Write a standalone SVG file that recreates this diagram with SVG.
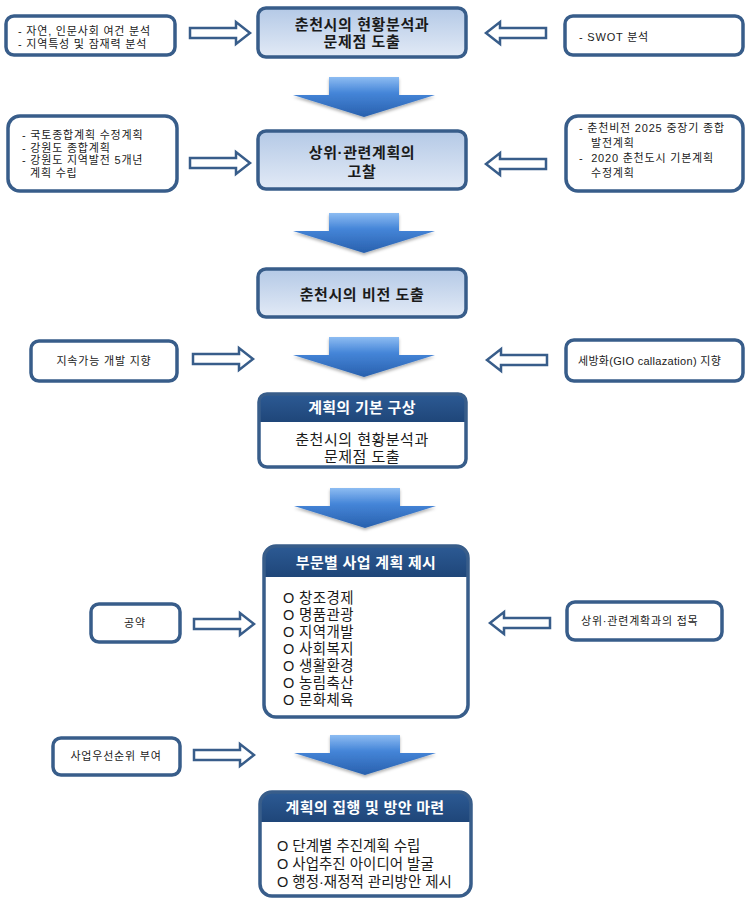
<svg xmlns="http://www.w3.org/2000/svg" width="748" height="905" viewBox="0 0 748 905">
<style>
text{font-family:"Liberation Sans","Noto Sans CJK KR",sans-serif;fill:#1a1a1a}
.sm{font-size:11px;letter-spacing:0.8px}
.md{font-size:15px;letter-spacing:0.5px}
.it{font-size:14.5px;letter-spacing:0.4px}
.fi{font-size:14.5px;letter-spacing:0px}
.tb{font-size:15px;font-weight:bold;letter-spacing:0.6px}
.hd{font-size:15px;font-weight:bold;fill:#ffffff;letter-spacing:0.3px}
.box{fill:#ffffff;stroke:#385d8a;stroke-width:3.5}
.main{fill:url(#mg);stroke:#385d8a;stroke-width:3.5}
.frame{fill:none;stroke:#385d8a;stroke-width:3.5}
.head{fill:url(#hg)}
.ha{fill:#ffffff;stroke:#385d8a;stroke-width:2.5;stroke-linejoin:miter}
.ba{fill:url(#bg);filter:url(#sh)}
</style>
<defs>
<linearGradient id="mg" x1="0" y1="0" x2="0" y2="1">
<stop offset="0" stop-color="#b4c9e6"/>
<stop offset="1" stop-color="#e2eaf6"/>
</linearGradient>
<linearGradient id="hg" x1="0" y1="0" x2="0" y2="1">
<stop offset="0" stop-color="#2c5a94"/>
<stop offset="1" stop-color="#1f4679"/>
</linearGradient>
<linearGradient id="bg" x1="0" y1="0" x2="0" y2="1">
<stop offset="0" stop-color="#8dbcf2"/>
<stop offset="0.4" stop-color="#4585d8"/>
<stop offset="1" stop-color="#2860ad"/>
</linearGradient>
<filter id="sh" x="-20%" y="-20%" width="140%" height="160%">
<feDropShadow dx="0" dy="2" stdDeviation="1.5" flood-color="#000000" flood-opacity="0.3"/>
</filter>
<path id="ra" d="M0,-5 H46 V-11 L60,0 L46,11 V5 H0 Z"/>
<path id="la" d="M60,-5 H14 V-11 L0,0 L14,11 V5 H60 Z"/>
<path id="big" d="M-35,0 H35 V18 H71 L0,40 L-71,18 H-35 Z"/>
</defs>

<g id="connectors">
<use href="#ra" class="ha" x="190" y="33"/>
<use href="#la" class="ha" x="486" y="33"/>
<use href="#ra" class="ha" x="190" y="163"/>
<use href="#la" class="ha" x="486" y="164"/>
<use href="#ra" class="ha" x="193" y="359"/>
<use href="#la" class="ha" x="487" y="360"/>
<use href="#ra" class="ha" x="194" y="624"/>
<use href="#la" class="ha" x="490" y="623"/>
<use href="#ra" class="ha" x="194" y="755"/>
<use href="#big" class="ba" x="364" y="77"/>
<use href="#big" class="ba" x="364" y="213"/>
<use href="#big" class="ba" x="364" y="337"/>
<use href="#big" class="ba" x="365" y="488"/>
<use href="#big" class="ba" x="365" y="735"/>
</g>

<g id="node-a">
<rect class="main" x="258" y="8" width="208" height="49" rx="8"/>
<text class="tb" x="362" y="30" text-anchor="middle">춘천시의 현황분석과</text>
<text class="tb" x="362" y="47" text-anchor="middle">문제점 도출</text>
</g>
<g id="left-1">
<rect class="box" x="6" y="16" width="169" height="39" rx="8"/>
<text class="sm" x="18" y="35">- 자연, 인문사회 여건 분석</text>
<text class="sm" x="18" y="48">- 지역특성 및 잠재력 분석</text>
</g>
<g id="right-1">
<rect class="box" x="565" y="16" width="178" height="39" rx="8"/>
<text class="sm" x="579" y="41">- SWOT 분석</text>
</g>

<g id="node-b">
<rect class="main" x="258" y="131" width="208" height="58" rx="8"/>
<text class="tb" x="362" y="158" text-anchor="middle">상위·관련계획의</text>
<text class="tb" x="362" y="177" text-anchor="middle">고찰</text>
</g>
<g id="left-2">
<rect class="box" x="8" y="116" width="169" height="75" rx="12"/>
<text class="sm" x="22" y="139">- 국토종합계획 수정계획</text>
<text class="sm" x="22" y="151.7">- 강원도 종합계획</text>
<text class="sm" x="22" y="164.4">- 강원도 지역발전 5개년</text>
<text class="sm" x="30" y="177.1">계획 수립</text>
</g>
<g id="right-2">
<rect class="box" x="566" y="116" width="177" height="75" rx="12"/>
<text class="sm" x="579" y="132">- 춘천비전 2025 중장기 종합</text>
<text class="sm" x="591" y="147">발전계획</text>
<text class="sm" x="579" y="162">-&#160; 2020 춘천도시 기본계획</text>
<text class="sm" x="591" y="177">수정계획</text>
</g>

<g id="node-c">
<rect class="main" x="258" y="269" width="208" height="48" rx="8"/>
<text class="tb" x="362" y="300" text-anchor="middle">춘천시의 비전 도출</text>
</g>
<g id="left-3">
<rect class="box" x="31" y="341" width="146" height="40" rx="8"/>
<text class="sm" x="104" y="365" text-anchor="middle">지속가능 개발 지향</text>
</g>
<g id="right-3">
<rect class="box" x="566" y="340" width="177" height="41" rx="8"/>
<text class="sm" x="578" y="365" style="letter-spacing:0.3px">세방화(GIO callazation) 지향</text>
</g>

<g id="node-d">
<rect x="259" y="394" width="207" height="73" rx="8" fill="#ffffff"/>
<path class="head" d="M259,402 a8,8 0 0 1 8,-8 H458 a8,8 0 0 1 8,8 V422 H259 Z"/>
<rect class="frame" x="259" y="394" width="207" height="73" rx="8"/>
<text class="hd" x="362" y="413" text-anchor="middle">계획의 기본 구상</text>
<text class="md" x="362" y="445" text-anchor="middle">춘천시의 현황분석과</text>
<text class="md" x="362" y="462" text-anchor="middle">문제점 도출</text>
</g>

<g id="node-e">
<rect x="264" y="546" width="204" height="171" rx="12" fill="#ffffff"/>
<path class="head" d="M264,558 a12,12 0 0 1 12,-12 H456 a12,12 0 0 1 12,12 V577 H264 Z"/>
<rect class="frame" x="264" y="546" width="204" height="171" rx="12"/>
<text class="hd" x="366" y="568" text-anchor="middle">부문별 사업 계획 제시</text>
<text class="it" x="283" y="603">O 창조경제</text>
<text class="it" x="283" y="620">O 명품관광</text>
<text class="it" x="283" y="637">O 지역개발</text>
<text class="it" x="283" y="654">O 사회복지</text>
<text class="it" x="283" y="671">O 생활환경</text>
<text class="it" x="283" y="688">O 농림축산</text>
<text class="it" x="283" y="705">O 문화체육</text>
</g>
<g id="left-4">
<rect class="box" x="91" y="604" width="89" height="38" rx="8"/>
<text class="sm" x="135" y="627" text-anchor="middle">공약</text>
</g>
<g id="right-4">
<rect class="box" x="567" y="602" width="155" height="38" rx="8"/>
<text class="sm" x="581" y="625">상위·관련계확과의 접목</text>
</g>

<g id="left-5">
<rect class="box" x="53" y="738" width="127" height="37" rx="8"/>
<text class="sm" x="116" y="760" text-anchor="middle">사업우선순위 부여</text>
</g>
<g id="node-f">
<rect x="260" y="792" width="211" height="104" rx="12" fill="#ffffff"/>
<path class="head" d="M260,804 a12,12 0 0 1 12,-12 H459 a12,12 0 0 1 12,12 V822 H260 Z"/>
<rect class="frame" x="260" y="792" width="211" height="104" rx="12"/>
<text class="hd" x="365" y="813" text-anchor="middle">계획의 집행 및 방안 마련</text>
<text class="fi" x="277" y="851">O 단계별 추진계획 수립</text>
<text class="fi" x="277" y="869">O 사업추진 아이디어 발굴</text>
<text class="fi" x="277" y="887">O 행정·재정적 관리방안 제시</text>
</g>
</svg>
